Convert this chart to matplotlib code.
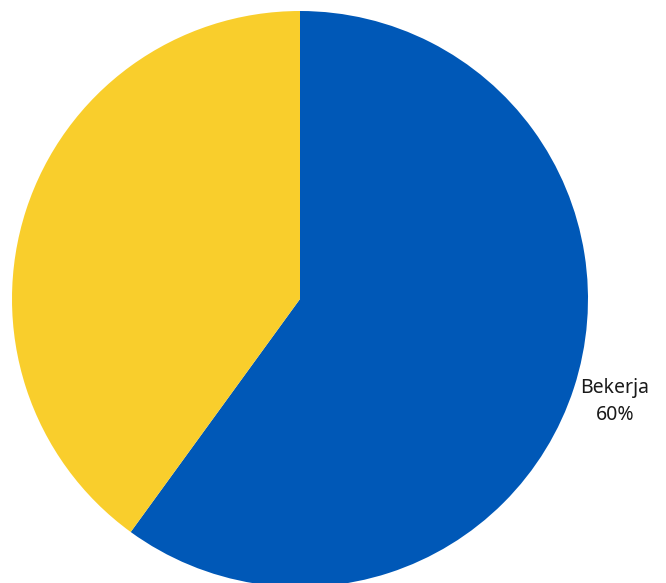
import matplotlib.pyplot as plt

categories = ['Bekerja', 'Tidak Bekerja']
values = [60, 40]
colors = ['#0058B7', '#F9CE2C']

fig = plt.figure(figsize=(6.66, 5.83), dpi=100)
ax = fig.add_axes([0, 0, 1, 1])

labels = ['%s\n%d%%' % (categories[0], values[0]), '']
wedges, texts = ax.pie(values, colors=colors, labels=labels, startangle=90,
                       counterclock=False, center=(300, 284), radius=288,
                       labeldistance=1.15, frame=True,
                       textprops={'fontsize': 14, 'family': 'Noto Sans', 'color': '#1a1a1a'})
for t in texts:
    t.set_ha('center')
    t.set_va('center')
    t.set_linespacing(1.5)

# fixed pixel-like window, pie runs off the bottom edge
ax.set_xlim(0, 666)
ax.set_ylim(0, 583)
ax.set_aspect('equal')
ax.axis('off')

fig.savefig('out.png', dpi=100)
